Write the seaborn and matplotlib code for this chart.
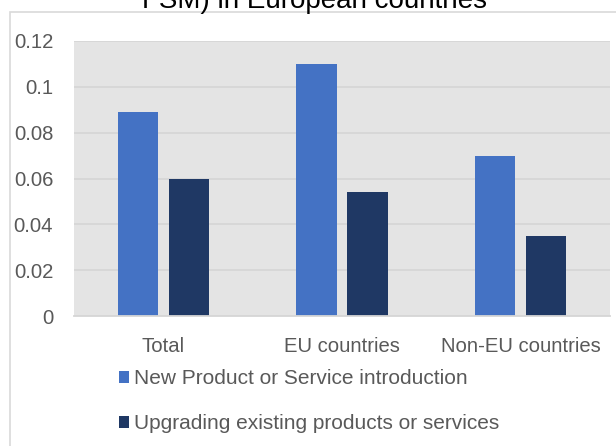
import matplotlib
matplotlib.use("Agg")
import matplotlib.pyplot as plt
from matplotlib import font_manager
from matplotlib.patches import Rectangle
import pandas as pd
import seaborn as sns

# Values per region for the two innovation types
regions = ["Total", "EU countries", "Non-EU countries"]
new_product = [0.089, 0.110, 0.070]
upgrading = [0.060, 0.054, 0.035]
series_names = ["New Product or Service introduction",
                "Upgrading existing products or services"]
y_ticks = [0, 0.02, 0.04, 0.06, 0.08, 0.1, 0.12]
y_tick_labels = ["0", "0.02", "0.04", "0.06", "0.08", "0.1", "0.12"]
title_text = "FSM) in European countries"

df = pd.DataFrame({
    "region": regions * 2,
    "value": new_product + upgrading,
    "series": [series_names[0]] * 3 + [series_names[1]] * 3,
})

sns.set_style("white")

available = {f.name for f in font_manager.fontManager.ttflist}
if "Liberation Sans Narrow" in available:
    narrow = dict(family="Liberation Sans Narrow")
    tick_size, leg_size = 16.5, 16.5
else:
    narrow = dict(family="Liberation Sans")
    tick_size, leg_size = 14.6, 15.0
plt.rcParams["font.family"] = ["Liberation Sans", "DejaVu Sans"]

fig = plt.figure(figsize=(6.16, 4.46), dpi=100)

# outer chart frame
W, H = 616, 446
fig.patches.append(Rectangle((10 / W, -0.1), 1.2, 1 - 12 / H + 0.1,
                             transform=fig.transFigure, fill=False,
                             edgecolor="#d9d9d9", linewidth=1.2))

ax = fig.add_axes([74 / W, 1 - 316 / H, (610 - 74) / W, (316 - 41) / H])
ax.set_facecolor("#e4e4e4")

sns.barplot(data=df, x="region", y="value", hue="series",
            palette=["#4472C4", "#1F3864"], saturation=1,
            width=0.57, gap=0.21, edgecolor="none", linewidth=0, ax=ax)

ax.set_ylim(0, 0.12)
ax.set_yticks(y_ticks)
ax.set_yticklabels(y_tick_labels)
ax.yaxis.grid(True, color="#d6d6d6", linewidth=1.3)
ax.set_axisbelow(True)
for side in ["top", "right", "left"]:
    ax.spines[side].set_visible(False)
ax.spines["bottom"].set_color("#d6d6d6")
ax.spines["bottom"].set_linewidth(1.3)
ax.tick_params(axis="both", length=0, colors="#595959")
ax.tick_params(axis="y", pad=15)
ax.tick_params(axis="x", pad=15)
for lab in ax.get_xticklabels() + ax.get_yticklabels():
    lab.set_fontsize(tick_size)
    lab.set_color("#595959")
    lab.set(**narrow)
ax.set_xlabel("")
ax.set_ylabel("")

handles, labels = ax.get_legend_handles_labels()
ax.get_legend().remove()
leg = fig.legend(handles, labels, loc="upper left",
                 bbox_to_anchor=(119 / W, 1 - 369 / H),
                 borderaxespad=0, borderpad=0,
                 frameon=False, handlelength=0.5, handleheight=0.5,
                 handletextpad=0.2, labelspacing=1.25,
                 prop=dict(size=leg_size, **narrow))
for t in leg.get_texts():
    t.set_color("#595959")

fig.text(315 / W, 1 - 8 / H, title_text, ha="center", va="baseline",
         fontsize=20, color="black", family="Liberation Sans")

fig.savefig("out.png", dpi=100)
